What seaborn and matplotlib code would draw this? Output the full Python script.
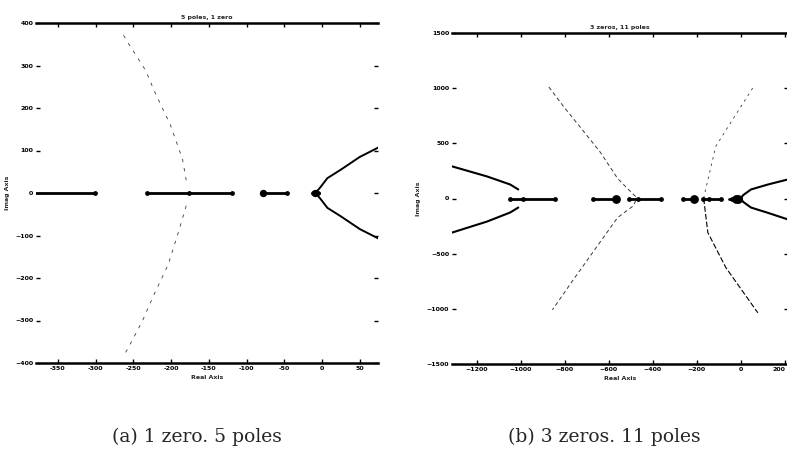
import numpy as np
import pandas as pd
import matplotlib
matplotlib.use("Agg")
import matplotlib.pyplot as plt
import seaborn as sns

# ---- (a) 5 poles, 1 zero ----
a_title = "5 poles, 1 zero"
a_xticks = [-350, -300, -250, -200, -150, -100, -50, 0, 50]
a_xticklabels = ["-350", "-300", "-250", "-200", "-150", "-100", "-50", "0", "50"]
a_yticks = [-400, -300, -200, -100, 0, 100, 200, 300, 400]
# real-axis locus segments
a_seg_x = [[-380, -301], [-232, -119], [-78, -46], [-12, -4]]
# pole / zero markers on the real axis
a_mark_x = [-301, -232, -177, -119, -78, -46, -12, -8, -5]
# complex branches leaving the right-hand cluster
a_right_x = [-9, -3, 7, 24, 50, 80]
a_right_up = [0, 12, 35, 54, 85, 112]
a_right_dn = [0, -12, -35, -54, -85, -112]
# faint branches leaving the axis near -177
a_far_up_x = [-180, -185, -201, -221, -234, -257, -266]
a_far_up_y = [30, 80, 160, 235, 289, 353, 380]
a_far_dn_x = [-180, -190, -204, -223, -238, -257, -262]
a_far_dn_y = [-30, -90, -169, -240, -301, -365, -380]

# ---- (b) 3 zeros, 11 poles ----
b_title = "3 zeros, 11 poles"
b_xticks = [-1200, -1000, -800, -600, -400, -200, 0, 200]
b_yticks = [-1500, -1000, -500, 0, 500, 1000, 1500]
b_seg_x = [[-1048, -843], [-670, -569], [-510, -364], [-264, -214],
           [-173, -91], [-55, 0]]
b_mark_x = [-1048, -989, -843, -670, -569, -510, -469, -364, -264, -214,
            -173, -146, -91, -40, -25, -12, -4]
b_big_x = [-569, -214, -20, -12]
# left parabola
b_left_x = [-1011, -1048, -1153, -1320]
b_left_up = [82, 127, 200, 296]
b_left_dn = [-82, -127, -209, -314]
# right parabola
b_right_x = [0, 10, 46, 123, 220]
b_right_up = [0, 30, 82, 127, 176]
b_right_dn = [0, -30, -82, -130, -194]
# middle branches (from about -478)
b_mid_up_x = [-478, -520, -560, -638, -729, -800, -875]
b_mid_up_y = [18, 100, 182, 418, 645, 820, 1018]
b_mid_dn_x = [-478, -487, -560, -706, -761, -856]
b_mid_dn_y = [-18, -64, -173, -582, -736, -1009]
# branches crossing near -169
b_cross_up_x = [-169, -160, -114, -55, 59]
b_cross_up_y = [0, 82, 473, 660, 1018]
b_cross_dn_x = [-169, -150, -68, 77]
b_cross_dn_y = [0, -309, -627, -1036]

sns.set_theme(style="white")
plt.rcParams["font.family"] = ["DejaVu Sans"]

fig = plt.figure(figsize=(7.87, 4.53), dpi=100)
ax_a = fig.add_axes([36 / 787, 90 / 453, 342 / 787, 340 / 453])
ax_b = fig.add_axes([452 / 787, 89 / 453, 336 / 787, 331 / 453])

INK = "black"
FAINT = "#3a3a3a"


def line(ax, x, y, lw, ls="-", color=INK):
    df = pd.DataFrame({"x": x, "y": y})
    sns.lineplot(data=df, x="x", y="y", ax=ax, sort=False, estimator=None,
                 color=color, linewidth=lw, linestyle=ls, legend=False)


def dots(ax, x, size):
    df = pd.DataFrame({"x": x, "y": [0] * len(x)})
    sns.scatterplot(data=df, x="x", y="y", ax=ax, color=INK, s=size,
                    edgecolor=INK, linewidth=0, legend=False, zorder=5)


def style(ax, title, xticks, yticks, xlim, ylim, xticklabels=None):
    ax.set_xlim(*xlim)
    ax.set_ylim(*ylim)
    ax.set_xticks(xticks)
    ax.set_yticks(yticks)
    if xticklabels is not None:
        ax.set_xticklabels(xticklabels)
    ax.tick_params(axis="both", which="both", direction="in", length=3,
                   width=1, labelsize=4.5, top=True, right=True,
                   bottom=True, left=True, pad=2, colors=INK)
    for t in ax.get_xticklabels() + ax.get_yticklabels():
        t.set_fontweight("bold")
    for s in ("left", "right"):
        ax.spines[s].set_visible(False)
    for s in ("top", "bottom"):
        ax.spines[s].set_linewidth(1.8)
        ax.spines[s].set_color(INK)
    ax.set_title(title, fontsize=4.5, fontweight="bold", pad=3)
    ax.set_xlabel("Real Axis", fontsize=4.5, fontweight="bold", labelpad=3)
    ax.set_ylabel("Imag Axis", fontsize=4.5, fontweight="bold", labelpad=4)


# (a)
for seg in a_seg_x:
    line(ax_a, seg, [0, 0], 2.0)
line(ax_a, a_right_x, a_right_up, 1.4)
line(ax_a, a_right_x, a_right_dn, 1.4)
line(ax_a, a_far_up_x, a_far_up_y, 0.6, ls=(0, (4, 7)), color=FAINT)
line(ax_a, a_far_dn_x, a_far_dn_y, 0.6, ls=(0, (4, 7)), color=FAINT)
dots(ax_a, a_mark_x, 12)
dots(ax_a, [-78, -10], 28)
style(ax_a, a_title, a_xticks, a_yticks, (-379, 74), (-400, 400),
      a_xticklabels)

# (b)
for seg in b_seg_x:
    line(ax_b, seg, [0, 0], 2.0)
line(ax_b, b_left_x, b_left_up, 1.5)
line(ax_b, b_left_x, b_left_dn, 1.5)
line(ax_b, b_right_x, b_right_up, 1.5)
line(ax_b, b_right_x, b_right_dn, 1.5)
line(ax_b, b_mid_up_x, b_mid_up_y, 0.7, ls=(0, (4, 3)), color=FAINT)
line(ax_b, b_mid_dn_x, b_mid_dn_y, 0.7, ls=(0, (4, 3)), color=FAINT)
line(ax_b, b_cross_up_x, b_cross_up_y, 0.6, ls=(0, (3, 5)), color=FAINT)
line(ax_b, b_cross_dn_x, b_cross_dn_y, 0.8, ls=(0, (5, 2)))
dots(ax_b, b_mark_x, 12)
dots(ax_b, b_big_x, 40)
style(ax_b, b_title, b_xticks, b_yticks, (-1312, 214), (-1500, 1500))
# keep the last tick label inside the figure edge
ax_b.get_xticklabels()[-1].set_horizontalalignment("right")

# captions
fig.text(197 / 787, 1 - 437 / 453, "(a) 1 zero. 5 poles", ha="center",
         va="center", fontsize=13.5, family="DejaVu Serif")
fig.text(604 / 787, 1 - 437 / 453, "(b) 3 zeros. 11 poles", ha="center",
         va="center", fontsize=13.5, family="DejaVu Serif")

fig.savefig("out.png", dpi=100, facecolor="white")
